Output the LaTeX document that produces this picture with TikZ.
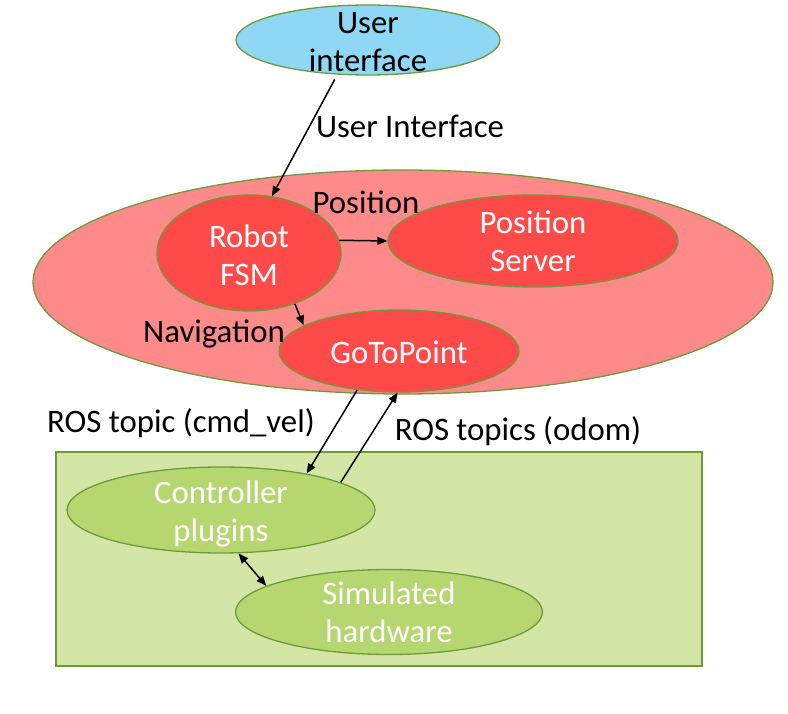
\documentclass[tikz,border=0pt]{standalone}
\usepackage{fontspec}
\setmainfont{Carlito}
\usetikzlibrary{shapes.geometric,arrows.meta}
\definecolor{uiblue}{HTML}{8ED8F6}
\definecolor{bigred}{HTML}{FF8A8A}
\definecolor{innerred}{HTML}{FF4A4A}
\definecolor{lightgreen}{HTML}{D3E6A6}
\definecolor{midgreen}{HTML}{B6D76F}
\definecolor{edgegreen}{HTML}{6F9A3B}
\begin{document}
\begin{tikzpicture}[x=1pt,y=-1pt,
  shapebox/.style={ellipse, draw=edgegreen, line width=1.3pt, inner sep=0pt},
  lbl/.style={font=\fontsize{32.8}{38}\selectfont, inner sep=0pt, align=center},
  conn/.style={line width=1.5pt, -{Triangle[length=10pt,width=8pt]}},
  dconn/.style={line width=1.5pt, {Triangle[length=10pt,width=8pt]}-{Triangle[length=10pt,width=8pt]}},
]
\useasboundingbox (0,0) rectangle (788,714);
% containers
\node[shapebox, fill=bigred, minimum width=740pt, minimum height=224pt] (sys) at (403,282) {};
\node[draw=edgegreen, fill=lightgreen, line width=1.3pt, minimum width=646pt, minimum height=214pt, inner sep=0pt] (simbox) at (379,559) {};
% ellipses
\node[shapebox, fill=uiblue, minimum width=264pt, minimum height=70pt] (ui) at (368,40) {};
\node[shapebox, fill=innerred, minimum width=184pt, minimum height=116pt] (fsm) at (249,253) {};
\node[shapebox, fill=innerred, minimum width=290pt, minimum height=92pt] (pos) at (533,241) {};
\node[shapebox, fill=innerred, minimum width=240pt, minimum height=82pt] (gtp) at (399,351) {};
\node[shapebox, fill=midgreen, minimum width=308pt, minimum height=86pt] (ctrl) at (221,510) {};
\node[shapebox, fill=midgreen, minimum width=307pt, minimum height=85pt] (hw) at (389,612) {};
% ellipse texts
\node[lbl, text=black] (uit) at (368,42) {User\\interface};
\node[lbl, text=white] (fsmt) at (249,255) {Robot\\FSM};
\node[lbl, text=white] (post) at (533,241) {Position\\Server};
\node[lbl, text=white] (gtpt) at (399,352) {GoToPoint};
\node[lbl, text=white] (ctrlt) at (221,513.5) {Controller\\plugins};
\node[lbl, text=white] (hwt) at (389,612) {Simulated\\hardware};
% connectors
\draw[conn] ([yshift=-5pt]ui.226) -- (fsm.68);
\draw[conn] (fsm.8) -- (pos.180);
\draw[conn] (fsm.-48) -- (gtp.165);
\draw[conn] (gtp.223) -- (ctrl.23);
\draw[conn] (ctrl.13) -- (gtp.-92);
\draw[dconn] (ctrl.-68) -- (hw.168);
% connector labels
\node[lbl, anchor=base] (l1) at (410,138) {User Interface};
\node[lbl, anchor=base] (l2) at (366,214) {Position};
\node[lbl, anchor=base] (l3) at (214,343) {Navigation};
\node[lbl, anchor=base] (l4) at (181,432) {ROS topic (cmd\_vel)};
\node[lbl, anchor=base] (l5) at (518,440) {ROS topics (odom)};
\end{tikzpicture}
\end{document}
